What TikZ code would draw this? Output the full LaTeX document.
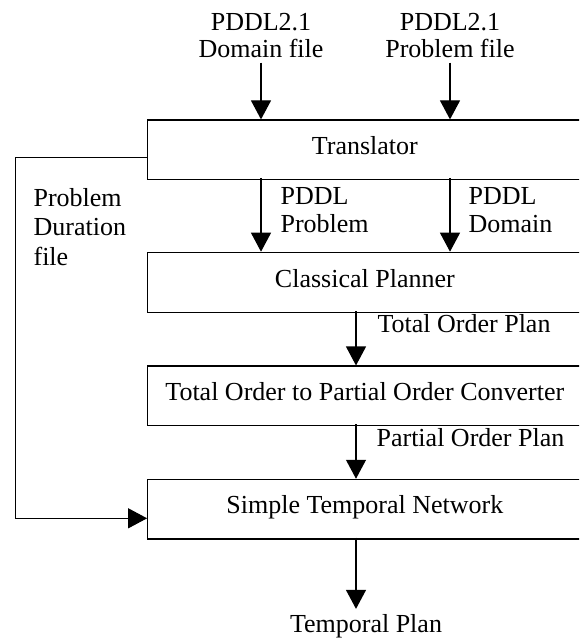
\documentclass[tikz,border=0pt]{standalone}
\usepackage{fontspec}
\setmainfont{Liberation Serif}
\usetikzlibrary{arrows.meta}

\begin{document}
\begin{tikzpicture}[x=1pt,y=-1pt,
  line width=1.2pt,
  stage/.style={draw, rectangle, inner sep=0pt, minimum width=434.3pt,
    text height=18pt, text depth=9pt, font=\fontsize{26}{30}\selectfont},
  lbl/.style={inner sep=0pt, font=\fontsize{26}{30}\selectfont},
  arr/.style={-{Triangle[length=19pt,width=20pt]}}
]
\useasboundingbox (0,0) rectangle (579,639);
\clip (0,0) rectangle (579,639);

% processing stages
\node[stage, minimum height=59.3pt] (trans) at (364.85,149.65) {Translator};
\node[stage, minimum height=60.4pt] (cp)    at (364.85,282.5)  {Classical Planner};
\node[stage, minimum height=59.7pt] (conv)  at (364.85,395.9)  {Total Order to Partial Order Converter};
\node[stage, minimum height=59.7pt] (stn)   at (364.85,509.2)  {Simple Temporal Network};

% inputs and intermediate data
\node[lbl, anchor=north, align=center, font=\fontsize{26}{27}\selectfont]
  (dom) at (261,13) {PDDL2.1\\Domain file};
\node[lbl, anchor=north, align=center, font=\fontsize{26}{27}\selectfont]
  (prob) at (450,13) {PDDL2.1\\Problem file};
\node[lbl, anchor=north west, align=left, font=\fontsize{26}{28}\selectfont]
  (pprob) at (280,187) {PDDL\\Problem};
\node[lbl, anchor=north west, align=left, font=\fontsize{26}{28}\selectfont]
  (pdom) at (468,187) {PDDL\\Domain};
\node[lbl, anchor=north west, align=left, font=\fontsize{26}{29.5}\selectfont]
  (dur) at (33,187.5) {Problem\\Duration\\file};
\node[lbl, anchor=base west] (top) at (377,332) {Total Order Plan};
\node[lbl, anchor=base west] (pop) at (376,446) {Partial Order Plan};
\node[lbl, anchor=base] (tplan) at (366,632.5) {Temporal Plan};

\coordinate (c2) at (356,0);
\coordinate (fbtop) at (15.7,157.3);
\coordinate (fbbot) at (15.7,518.3);

% data flow
\draw[arr] ([yshift=-4pt]dom.south) -- (dom.south |- trans.north);
\draw[arr] ([yshift=-4pt]prob.south) -- (prob.south |- trans.north);
\draw[arr, shorten <=-2pt] (trans.south -| dom.south) -- (cp.north -| dom.south);
\draw[arr, shorten <=-2pt] (trans.south -| prob.south) -- (cp.north -| prob.south);
\draw[arr, shorten <=-2pt] (cp.south -| c2) -- (conv.north -| c2);
\draw[arr, shorten <=-2pt] (conv.south -| c2) -- (stn.north -| c2);
\draw[arr, shorten <=-2pt, shorten >=5pt] (stn.south -| c2) -- (c2 |- tplan.north);
\draw[arr] (trans.west |- fbtop) -- (fbtop) -- (fbbot) -- (stn.west |- fbbot);
\end{tikzpicture}
\end{document}
